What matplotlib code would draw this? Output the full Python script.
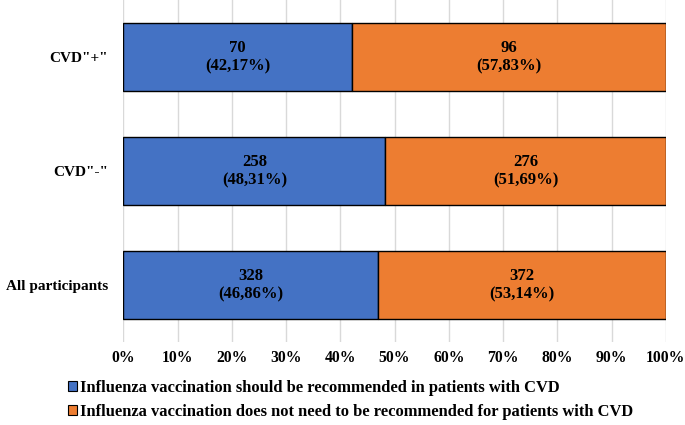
import matplotlib.pyplot as plt
from matplotlib.patches import Patch

categories = ['All participants', 'CVD"-"', 'CVD"+"']
recommended = [328, 258, 70]
not_needed = [372, 276, 96]
rec_pct = ['46,86%', '48,31%', '42,17%']
not_pct = ['53,14%', '51,69%', '57,83%']
legend_labels = ['Influenza vaccination should be recommended in patients with CVD',
                 'Influenza vaccination does not need to be recommended for patients with CVD']

plt.rcParams['font.family'] = 'Liberation Serif'
plt.rcParams['font.weight'] = 'bold'

fig = plt.figure(figsize=(6.85, 4.25), dpi=100)
ax = fig.add_axes([0.18, 0.195, 0.792, 0.805])

blue = '#4472C4'
orange = '#ED7D31'
y = range(len(categories))
totals = [a + b for a, b in zip(recommended, not_needed)]
share_a = [a / t * 100 for a, t in zip(recommended, totals)]
share_b = [b / t * 100 for b, t in zip(not_needed, totals)]

ax.barh(y, share_a, height=0.59, color=blue, edgecolor='black', linewidth=1, zorder=3)
ax.barh(y, share_b, left=share_a, height=0.59, color=orange, edgecolor='black', linewidth=1, zorder=3)

for i in y:
    ax.text(share_a[i] / 2, i, f'{recommended[i]}\n({rec_pct[i]})', ha='center', va='center',
            fontsize=12, fontweight='bold', zorder=4)
    ax.text(share_a[i] + share_b[i] / 2, i, f'{not_needed[i]}\n({not_pct[i]})', ha='center', va='center',
            fontsize=12, fontweight='bold', zorder=4)

ax.set_xlim(0, 100)
ax.set_ylim(-0.5, 2.5)
ax.set_yticks(list(y))
ax.set_yticklabels(categories, fontsize=11, fontweight='bold')
ax.set_xticks(range(0, 101, 10))
ax.set_xticklabels([f'{v}%' for v in range(0, 101, 10)], fontsize=11.3, fontweight='bold')
ax.tick_params(axis='y', length=0, pad=11)
ax.tick_params(axis='x', length=0, pad=6)
ax.grid(axis='x', color='#D9D9D9', linewidth=1, zorder=0)
for s in ax.spines.values():
    s.set_visible(False)

handles = [Patch(facecolor=blue, edgecolor='black', linewidth=0.8),
           Patch(facecolor=orange, edgecolor='black', linewidth=0.8)]
fig.legend(handles, legend_labels, loc='upper left', bbox_to_anchor=(0.099, 0.106), frameon=False,
           borderpad=0, borderaxespad=0, handlelength=0.55, handleheight=0.55, handletextpad=0.2,
           labelspacing=0.5, prop={'weight': 'bold', 'size': 11.9})

fig.savefig('out.png', dpi=100)
